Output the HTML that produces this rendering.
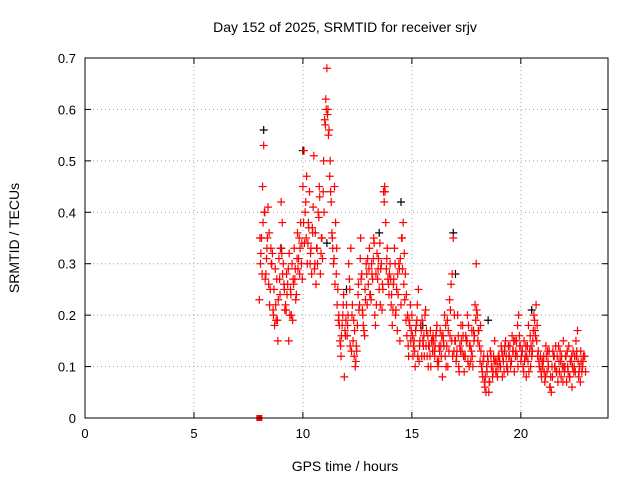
<!DOCTYPE html>
<html><head><meta charset="utf-8"><style>
html,body{margin:0;padding:0;background:#fff;}
svg{display:block;font-family:"Liberation Sans",sans-serif;}
</style></head><body>
<svg id="chart" width="640" height="480">
<text x="345" y="32" text-anchor="middle" font-size="14">Day 152 of 2025, SRMTID for receiver srjv</text>
<text x="345" y="471" text-anchor="middle" font-size="14">GPS time / hours</text>
<text x="19" y="238" text-anchor="middle" font-size="14" transform="rotate(-90 19 238)">SRMTID / TECUs</text>
<g id="grid"></g>
<g id="ticks"></g>
<g id="marks"></g>
<rect x="85" y="58" width="523" height="360" fill="none" stroke="#000" stroke-width="1"/>
</svg>
<script>
const xTicks=[0,5,10,15,20];
const yTicks=[0,0.1,0.2,0.3,0.4,0.5,0.6,0.7];
const yTickLabels=["0","0.1","0.2","0.3","0.4","0.5","0.6","0.7"];
const seriesAStart=8.0, seriesAStep=0.05;
const seriesA=[0.23,0.30,0.35,0.45,0.53,0.40,0.28,0.33,0.41,0.36,0.25,0.30,0.32,0.20,0.18,0.22,0.27,0.15,0.31,0.24,
0.42,0.38,0.30,0.25,0.22,0.28,0.26,0.15,0.20,0.24,0.30,0.27,0.33,0.29,0.24,0.36,0.31,0.28,0.38,0.34,
0.45,0.52,0.40,0.35,0.30,0.38,0.44,0.32,0.28,0.36,0.51,0.30,0.26,0.33,0.40,0.45,0.28,0.35,0.31,0.50,
0.58,0.62,0.68,0.60,0.56,0.50,0.42,0.35,0.30,0.45,0.38,0.33,0.25,0.20,0.15,0.12,0.18,0.22,0.08,0.16,
0.22,0.18,0.30,0.25,0.33,0.20,0.15,0.12,0.10,0.14,0.18,0.26,0.22,0.35,0.28,0.20,0.17,0.25,0.30,0.22,
0.26,0.33,0.24,0.30,0.27,0.35,0.20,0.28,0.32,0.29,0.25,0.22,0.30,0.26,0.44,0.45,0.38,0.31,0.27,0.24,
0.30,0.22,0.18,0.26,0.33,0.20,0.25,0.28,0.30,0.15,0.22,0.35,0.38,0.32,0.28,0.24,0.20,0.12,0.18,0.15,
0.20,0.12,0.15,0.10,0.18,0.22,0.25,0.14,0.18,0.12,0.15,0.16,0.20,0.14,0.12,0.10,0.14,0.17,0.15,0.13,
0.15,0.12,0.16,0.18,0.10,0.14,0.17,0.12,0.08,0.15,0.20,0.18,0.14,0.10,0.13,0.16,0.26,0.28,0.35,0.20,
0.15,0.12,0.20,0.10,0.14,0.18,0.13,0.16,0.09,0.12,0.15,0.20,0.18,0.14,0.11,0.17,0.10,0.15,0.22,0.30,
0.20,0.17,0.14,0.18,0.10,0.08,0.12,0.06,0.05,0.09,0.11,0.07,0.13,0.10,0.08,0.12,0.15,0.09,0.11,0.10,
0.12,0.10,0.14,0.08,0.11,0.13,0.15,0.10,0.09,0.12,0.14,0.11,0.16,0.13,0.09,0.12,0.15,0.18,0.20,0.14,
0.11,0.13,0.10,0.15,0.12,0.08,0.14,0.18,0.13,0.10,0.12,0.15,0.20,0.17,0.22,0.18,0.13,0.10,0.12,0.08,
0.10,0.12,0.07,0.14,0.09,0.11,0.13,0.06,0.05,0.08,0.12,0.10,0.14,0.09,0.07,0.11,0.13,0.08,0.10,0.15,
0.09,0.12,0.07,0.10,0.14,0.08,0.11,0.06,0.13,0.10,0.09,0.12,0.17,0.08,0.10,0.13,0.09,0.11];
const seriesBStart=8.03, seriesBStep=0.1;
const seriesB=[0.35,0.28,0.40,0.31,0.26,0.33,0.21,0.29,0.19,0.27,
0.32,0.26,0.21,0.29,0.25,0.19,0.27,0.31,0.35,0.30,
0.38,0.42,0.34,0.30,0.37,0.29,0.33,0.39,0.32,0.44,
0.57,0.59,0.47,0.36,0.31,0.28,0.19,0.14,0.20,0.17,
0.16,0.27,0.13,0.19,0.11,0.24,0.31,0.21,0.16,0.28,
0.29,0.23,0.31,0.18,0.27,0.34,0.21,0.42,0.29,0.26,
0.27,0.21,0.30,0.17,0.29,0.35,0.26,0.19,0.14,0.22,
0.16,0.13,0.19,0.11,0.17,0.14,0.21,0.16,0.12,0.15,
0.13,0.17,0.11,0.14,0.16,0.12,0.19,0.23,0.15,0.13,
0.11,0.16,0.13,0.18,0.12,0.15,0.10,0.13,0.17,0.19,
0.15,0.11,0.09,0.07,0.10,0.05,0.12,0.09,0.11,0.08,
0.11,0.13,0.09,0.12,0.14,0.10,0.13,0.15,0.12,0.16,
0.12,0.09,0.14,0.11,0.16,0.13,0.19,0.15,0.11,0.09,
0.11,0.08,0.13,0.06,0.10,0.12,0.09,0.14,0.11,0.07,
0.10,0.13,0.08,0.12,0.09,0.15,0.11,0.07,0.10,0.12];
const seriesCStart=8.07, seriesCStep=0.1;
const seriesC=[0.32,0.38,0.27,0.35,0.22,0.30,0.25,0.19,0.23,0.33,
0.28,0.21,0.24,0.32,0.20,0.26,0.23,0.29,0.33,0.27,
0.34,0.47,0.37,0.33,0.41,0.36,0.30,0.43,0.35,0.40,
0.60,0.55,0.44,0.33,0.26,0.22,0.18,0.16,0.24,0.19,
0.20,0.14,0.22,0.17,0.13,0.21,0.27,0.18,0.23,0.31,
0.24,0.28,0.34,0.22,0.31,0.29,0.25,0.44,0.33,0.28,
0.24,0.27,0.21,0.24,0.31,0.29,0.23,0.16,0.19,0.17,
0.14,0.17,0.12,0.15,0.19,0.12,0.17,0.14,0.10,0.16,
0.14,0.11,0.13,0.16,0.14,0.10,0.17,0.21,0.12,0.15,
0.13,0.09,0.15,0.12,0.16,0.11,0.14,0.12,0.16,0.21,
0.17,0.13,0.11,0.08,0.12,0.07,0.10,0.11,0.09,0.12,
0.10,0.12,0.14,0.10,0.12,0.11,0.15,0.13,0.10,0.14,
0.13,0.11,0.12,0.09,0.14,0.17,0.16,0.12,0.10,0.11,
0.09,0.12,0.10,0.08,0.13,0.10,0.12,0.09,0.12,0.10,
0.12,0.09,0.11,0.10,0.12,0.13,0.09,0.11,0.12,0.09];
const blackTimes=[8.2,9.0,10.0,11.1,13.5,14.5,16.9,17.0,18.5,20.5,12.0,15.5];
const blackValues=[0.56,0.33,0.52,0.34,0.36,0.42,0.36,0.28,0.19,0.21,0.25,0.18];
const markerTime=[8.0];
const markerValue=[0.0];

const NS="http://www.w3.org/2000/svg";
const X0=85,X1=608,Y0=418,Y1=58;
function xs(t){return X0+(t/24)*(X1-X0);}
function ys(v){return Y0-(v/0.7)*(Y0-Y1);}
function mk(tag,attrs,parent){const e=document.createElementNS(NS,tag);for(const k in attrs)e.setAttribute(k,attrs[k]);parent.appendChild(e);return e;}
const grid=document.getElementById('grid'),ticks=document.getElementById('ticks'),marks=document.getElementById('marks');
xTicks.forEach(t=>{
  const x=xs(t);
  if(t>0){const g=mk('line',{x1:x,x2:x,y1:Y1,y2:Y0,stroke:'#a0a0a0','stroke-dasharray':'1,3'},grid);
  
  }
  const l=mk('text',{x:x,y:Y0+20,'text-anchor':'middle','font-size':'13'},ticks);l.textContent=String(t);
  
  
  mk('line',{x1:x,x2:x,y1:Y0,y2:Y0-6,stroke:'#000'},ticks);
  mk('line',{x1:x,x2:x,y1:Y1,y2:Y1+6,stroke:'#000'},ticks);
});
yTicks.forEach((v,i)=>{
  const y=ys(v);
  if(i>0&&i<yTicks.length-1){const g=mk('line',{x1:X0,x2:X1,y1:y,y2:y,stroke:'#a0a0a0','stroke-dasharray':'1,3'},grid);
  
  }
  const l=mk('text',{x:X0-9,y:y+5,'text-anchor':'end','font-size':'13'},ticks);l.textContent=yTickLabels[i];
  
  
  mk('line',{x1:X0,x2:X0+6,y1:y,y2:y,stroke:'#000'},ticks);
  mk('line',{x1:X1,x2:X1-6,y1:y,y2:y,stroke:'#000'},ticks);
});
function plus(t,v,color,name){
  const x=xs(t),y=ys(v);
  const p=mk('path',{d:`M${x-4},${y}h8M${x},${y-4}v8`,stroke:color,'stroke-width':'1.2',fill:'none'},marks);
  
  
}
blackTimes.forEach((t,i)=>plus(t,blackValues[i],'#000','point-black'));
seriesA.forEach((v,i)=>plus(seriesAStart+i*seriesAStep,v,'#ff0000','point-red'));
seriesB.forEach((v,i)=>plus(seriesBStart+i*seriesBStep,v,'#ff0000','point-red'));
seriesC.forEach((v,i)=>plus(seriesCStart+i*seriesCStep,v,'#ff0000','point-red'));
markerTime.forEach((t,i)=>{
  const r=mk('rect',{x:xs(t)-3,y:ys(markerValue[i])-3,width:6,height:6,fill:'#ff0000'},marks);
  
  
});
</script>
</body></html>
